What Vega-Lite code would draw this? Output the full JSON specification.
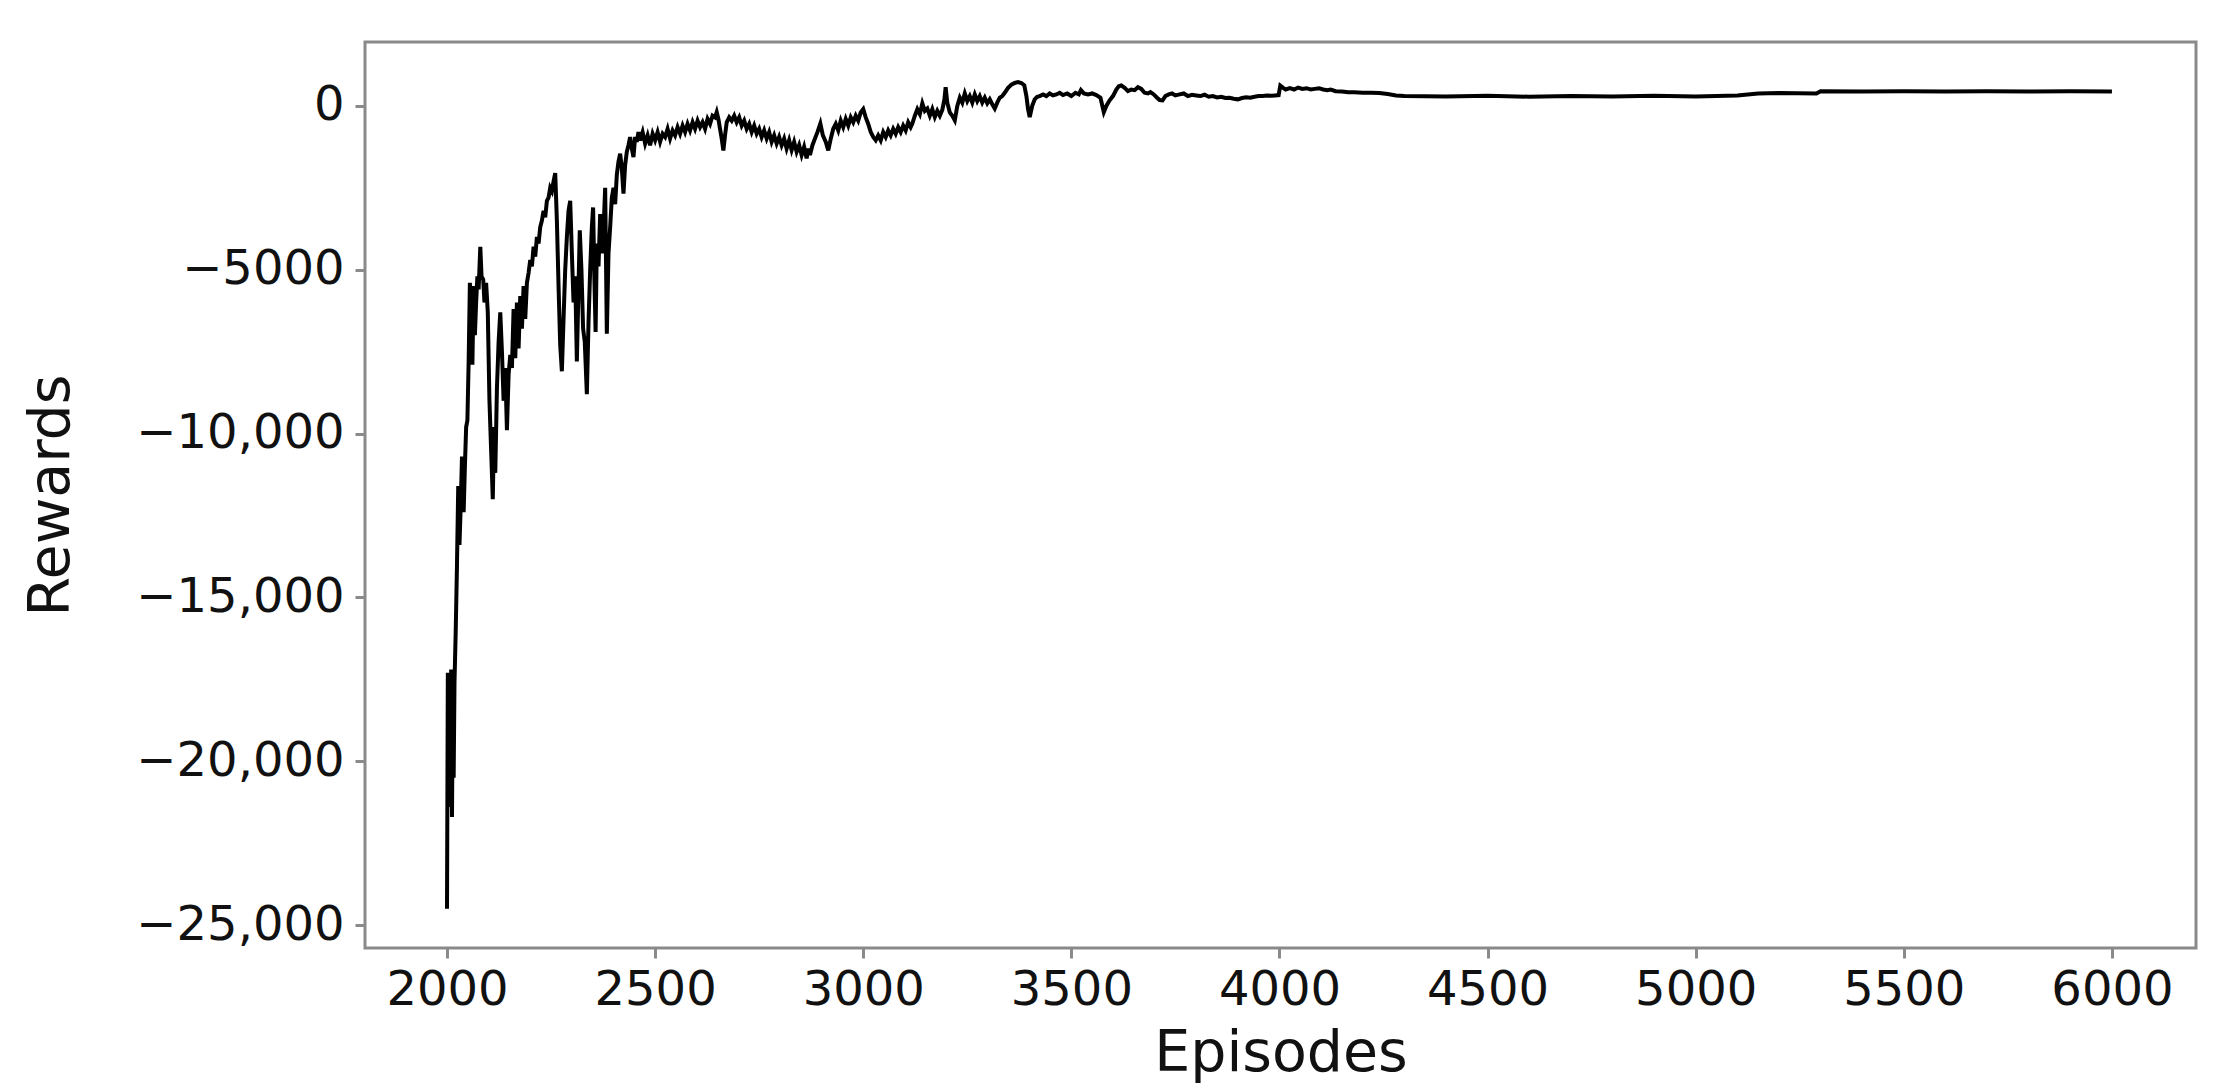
{
  "$schema": "https://vega.github.io/schema/vega-lite/v6.json",
  "width": 1831,
  "height": 906,
  "autosize": {"type": "none"},
  "padding": {"left": 365, "top": 42, "right": 30, "bottom": 144},
  "background": "white",
  "config": {
    "view": {"stroke": "#8a8a8a", "strokeWidth": 3},
    "axis": {"grid": false, "domain": false, "tickColor": "#8a8a8a", "tickWidth": 3, "tickSize": 10, "labelLimit": 0, "titleLimit": 0,
      "labelFont": "DejaVu Sans", "labelFontSize": 48, "labelColor": "#111",
      "titleFont": "DejaVu Sans", "titleFontSize": 57, "titleFontWeight": "normal", "titleColor": "#111"}
  },
  "data": {"values": [
    {"e":2000,"r":-24500},{"e":2002,"r":-17300},{"e":2004,"r":-21000},{"e":2006,"r":-17500},{"e":2008,"r":-21400},{"e":2010,"r":-17200},{"e":2012,"r":-21700},{"e":2014,"r":-17800},{"e":2016,"r":-20500},{"e":2018,"r":-17600},{"e":2021,"r":-16000},{"e":2024,"r":-14000},{"e":2027,"r":-11600},{"e":2030,"r":-13400},{"e":2033,"r":-12200},{"e":2036,"r":-10700},{"e":2040,"r":-12400},{"e":2043,"r":-11000},{"e":2046,"r":-9800},{"e":2049,"r":-9600},{"e":2052,"r":-7800},{"e":2055,"r":-5400},{"e":2058,"r":-6500},{"e":2061,"r":-7900},{"e":2064,"r":-5500},{"e":2067,"r":-7000},{"e":2070,"r":-6000},{"e":2073,"r":-5200},{"e":2076,"r":-5600},{"e":2080,"r":-4300},{"e":2083,"r":-5200},{"e":2087,"r":-5300},{"e":2090,"r":-6000},{"e":2094,"r":-5400},{"e":2098,"r":-6300},{"e":2102,"r":-9000},{"e":2106,"r":-10500},{"e":2110,"r":-12000},{"e":2113,"r":-9800},{"e":2116,"r":-11200},{"e":2120,"r":-8600},{"e":2124,"r":-7200},{"e":2128,"r":-6300},{"e":2132,"r":-7500},{"e":2136,"r":-9000},{"e":2140,"r":-8000},{"e":2144,"r":-9900},{"e":2148,"r":-8200},{"e":2152,"r":-7600},{"e":2156,"r":-8000},{"e":2160,"r":-6200},{"e":2164,"r":-7700},{"e":2168,"r":-6000},{"e":2172,"r":-7400},{"e":2176,"r":-5800},{"e":2180,"r":-6800},{"e":2184,"r":-5500},{"e":2188,"r":-6500},{"e":2192,"r":-5400},{"e":2196,"r":-5100},{"e":2200,"r":-4700},{"e":2204,"r":-4900},{"e":2208,"r":-4300},{"e":2212,"r":-4600},{"e":2216,"r":-4000},{"e":2220,"r":-4200},{"e":2224,"r":-3700},{"e":2228,"r":-3500},{"e":2232,"r":-3200},{"e":2236,"r":-3400},{"e":2240,"r":-2900},{"e":2244,"r":-2800},{"e":2248,"r":-2500},{"e":2252,"r":-2600},{"e":2256,"r":-2300},{"e":2260,"r":-2050},{"e":2264,"r":-3500},{"e":2268,"r":-5500},{"e":2272,"r":-7300},{"e":2276,"r":-8100},{"e":2280,"r":-6500},{"e":2284,"r":-5000},{"e":2288,"r":-4000},{"e":2292,"r":-3200},{"e":2296,"r":-2900},{"e":2300,"r":-4500},{"e":2304,"r":-6000},{"e":2308,"r":-5200},{"e":2312,"r":-7800},{"e":2316,"r":-5500},{"e":2319,"r":-3800},{"e":2323,"r":-5000},{"e":2327,"r":-6800},{"e":2331,"r":-7200},{"e":2336,"r":-8800},{"e":2340,"r":-6600},{"e":2344,"r":-5000},{"e":2348,"r":-3700},{"e":2351,"r":-3100},{"e":2354,"r":-5200},{"e":2357,"r":-6900},{"e":2360,"r":-4200},{"e":2364,"r":-4900},{"e":2368,"r":-3300},{"e":2372,"r":-4500},{"e":2376,"r":-3800},{"e":2380,"r":-2500},{"e":2384,"r":-6950},{"e":2388,"r":-4500},{"e":2392,"r":-3700},{"e":2396,"r":-2800},{"e":2400,"r":-2500},{"e":2404,"r":-3000},{"e":2408,"r":-2100},{"e":2412,"r":-1700},{"e":2416,"r":-1460},{"e":2420,"r":-1900},{"e":2424,"r":-2680},{"e":2428,"r":-1800},{"e":2432,"r":-1400},{"e":2436,"r":-1200},{"e":2440,"r":-950},{"e":2444,"r":-1300},{"e":2448,"r":-1560},{"e":2452,"r":-950},{"e":2456,"r":-1100},{"e":2460,"r":-800},
    {"e":2464,"r":-1050},{"e":2470,"r":-800},{"e":2476,"r":-1150},{"e":2482,"r":-900},{"e":2488,"r":-1200},{"e":2494,"r":-850},{"e":2500,"r":-1050},{"e":2506,"r":-800},{"e":2512,"r":-1100},{"e":2518,"r":-850},{"e":2524,"r":-950},{"e":2530,"r":-700},{"e":2536,"r":-1000},{"e":2542,"r":-750},{"e":2548,"r":-900},{"e":2554,"r":-650},{"e":2560,"r":-850},{"e":2566,"r":-600},{"e":2572,"r":-800},{"e":2578,"r":-550},{"e":2584,"r":-750},{"e":2590,"r":-500},{"e":2596,"r":-700},{"e":2602,"r":-450},{"e":2608,"r":-650},{"e":2614,"r":-500},{"e":2620,"r":-700},{"e":2626,"r":-400},{"e":2632,"r":-550},{"e":2638,"r":-300},{"e":2644,"r":-350},{"e":2648,"r":-190},{"e":2652,"r":-400},{"e":2656,"r":-700},{"e":2660,"r":-1000},{"e":2664,"r":-1360},{"e":2668,"r":-900},{"e":2672,"r":-500},{"e":2678,"r":-350},{"e":2684,"r":-450},{"e":2690,"r":-300},{"e":2696,"r":-500},{"e":2702,"r":-350},{"e":2708,"r":-600},{"e":2714,"r":-450},{"e":2720,"r":-700},{"e":2726,"r":-550},{"e":2732,"r":-800},{"e":2738,"r":-600},{"e":2744,"r":-850},{"e":2750,"r":-700},{"e":2756,"r":-950},{"e":2762,"r":-750},{"e":2768,"r":-1000},{"e":2774,"r":-800},{"e":2780,"r":-1100},{"e":2786,"r":-900},{"e":2792,"r":-1150},{"e":2798,"r":-950},{"e":2804,"r":-1200},{"e":2810,"r":-1000},{"e":2816,"r":-1300},{"e":2822,"r":-1050},{"e":2828,"r":-1350},{"e":2834,"r":-1100},{"e":2840,"r":-1400},{"e":2846,"r":-1200},{"e":2852,"r":-1500},{"e":2858,"r":-1250},{"e":2864,"r":-1600},{"e":2868,"r":-1300},{"e":2872,"r":-1500},{"e":2878,"r":-1200},{"e":2884,"r":-1000},{"e":2890,"r":-800},{"e":2897,"r":-540},{"e":2903,"r":-900},{"e":2910,"r":-1100},{"e":2916,"r":-1360},{"e":2922,"r":-1000},{"e":2928,"r":-700},{"e":2934,"r":-550},{"e":2940,"r":-750},{"e":2946,"r":-450},{"e":2952,"r":-650},{"e":2958,"r":-400},{"e":2964,"r":-600},{"e":2970,"r":-350},{"e":2976,"r":-500},{"e":2982,"r":-300},{"e":2988,"r":-450},{"e":2994,"r":-200},{"e":3000,"r":-100},{"e":3006,"r":-350},{"e":3012,"r":-550},{"e":3018,"r":-800},{"e":3024,"r":-950},{"e":3030,"r":-1050},{"e":3036,"r":-900},{"e":3042,"r":-1050},{"e":3048,"r":-800},{"e":3054,"r":-950},{"e":3060,"r":-750},{"e":3066,"r":-900},{"e":3072,"r":-700},{"e":3078,"r":-850},{"e":3084,"r":-650},{"e":3090,"r":-800},{"e":3096,"r":-600},{"e":3102,"r":-750},{"e":3108,"r":-500},{"e":3114,"r":-650},{"e":3118,"r":-540},{"e":3124,"r":-300},{"e":3130,"r":-100},{"e":3136,"r":-250},{"e":3142,"r":80},{"e":3148,"r":-150},{"e":3154,"r":-80},{"e":3160,"r":-300},{"e":3166,"r":-100},{"e":3172,"r":-340},{"e":3178,"r":-150},{"e":3184,"r":-300},{"e":3190,"r":-120},{"e":3195,"r":200},{"e":3198,"r":570},{"e":3202,"r":100},{"e":3208,"r":-200},{"e":3214,"r":-300},{"e":3220,"r":-440},{"e":3226,"r":0},{"e":3232,"r":250},{"e":3238,"r":100},{"e":3244,"r":380},{"e":3250,"r":150},{"e":3256,"r":300},{"e":3262,"r":100},{"e":3268,"r":350},{"e":3274,"r":150},{"e":3280,"r":300},{"e":3286,"r":100},{"e":3292,"r":250},{"e":3298,"r":80},{"e":3304,"r":200},{"e":3310,"r":50},{"e":3316,"r":-80},{"e":3322,"r":100},{"e":3328,"r":250},{"e":3334,"r":300},{"e":3340,"r":400},{"e":3348,"r":550},{"e":3356,"r":650},{"e":3364,"r":700},{"e":3372,"r":730},{"e":3380,"r":700},{"e":3387,"r":630},{"e":3392,"r":300},{"e":3396,"r":-100},{"e":3400,"r":-340},{"e":3406,"r":0},{"e":3412,"r":200},{"e":3418,"r":280},{"e":3424,"r":300},{"e":3432,"r":350},{"e":3440,"r":300},{"e":3448,"r":380},{"e":3456,"r":320},{"e":3464,"r":350},{"e":3472,"r":400},{"e":3480,"r":330},{"e":3490,"r":380},{"e":3500,"r":300},{"e":3510,"r":400},{"e":3518,"r":350},{"e":3523,"r":480},{"e":3530,"r":380},{"e":3540,"r":350},{"e":3550,"r":380},{"e":3560,"r":330},{"e":3570,"r":250},{"e":3578,"r":-190},{"e":3584,"r":0},{"e":3592,"r":170},{"e":3600,"r":300},{"e":3608,"r":500},{"e":3614,"r":600},{"e":3620,"r":625},{"e":3628,"r":550},{"e":3636,"r":450},{"e":3644,"r":500},{"e":3652,"r":480},{"e":3660,"r":570},{"e":3668,"r":520},{"e":3676,"r":400},{"e":3684,"r":380},{"e":3690,"r":420},{"e":3698,"r":350},{"e":3706,"r":250},{"e":3712,"r":180},{"e":3719,"r":170},{"e":3726,"r":300},{"e":3734,"r":350},{"e":3742,"r":380},{"e":3750,"r":320},{"e":3760,"r":350},{"e":3770,"r":380},{"e":3780,"r":300},{"e":3790,"r":340},{"e":3800,"r":320},{"e":3810,"r":300},{"e":3820,"r":340},{"e":3830,"r":280},{"e":3840,"r":300},{"e":3850,"r":260},{"e":3860,"r":280},{"e":3870,"r":240},{"e":3880,"r":250},{"e":3890,"r":220},{"e":3900,"r":200},{"e":3910,"r":240},{"e":3920,"r":260},{"e":3930,"r":250},{"e":3940,"r":280},{"e":3950,"r":300},{"e":3960,"r":300},{"e":3970,"r":320},{"e":3980,"r":310},{"e":3990,"r":320},{"e":3998,"r":330},{"e":4002,"r":620},{"e":4008,"r":560},{"e":4015,"r":500},{"e":4025,"r":540},{"e":4035,"r":500},{"e":4045,"r":560},{"e":4055,"r":520},{"e":4065,"r":540},{"e":4075,"r":500},{"e":4085,"r":520},{"e":4095,"r":540},{"e":4105,"r":500},{"e":4115,"r":480},{"e":4123,"r":500},{"e":4135,"r":450},{"e":4150,"r":440},{"e":4165,"r":420},{"e":4180,"r":420},{"e":4200,"r":400},{"e":4220,"r":400},{"e":4240,"r":390},{"e":4260,"r":360},{"e":4280,"r":320},{"e":4300,"r":300},{"e":4400,"r":290},{"e":4500,"r":310},{"e":4600,"r":280},{"e":4700,"r":300},{"e":4800,"r":290},{"e":4900,"r":310},{"e":5000,"r":290},{"e":5100,"r":320},{"e":5150,"r":380},{"e":5200,"r":390},{"e":5290,"r":380},{"e":5300,"r":450},{"e":5400,"r":440},{"e":5500,"r":450},{"e":5600,"r":440},{"e":5700,"r":445},{"e":5800,"r":440},{"e":5900,"r":450},{"e":6000,"r":440}
  ]},
  "mark": {"type": "line", "color": "#000", "strokeWidth": 4},
  "encoding": {
    "x": {"field": "e", "type": "quantitative",
      "scale": {"domain": [1803, 6202], "nice": false, "zero": false},
      "axis": {"values": [2000, 2500, 3000, 3500, 4000, 4500, 5000, 5500, 6000], "format": "d",
        "labelPadding": 8, "title": "Episodes", "titleBaseline": "alphabetic", "titleY": 122}},
    "y": {"field": "r", "type": "quantitative",
      "scale": {"domain": [-25700, 1950], "nice": false, "zero": false},
      "axis": {"values": [-25000, -20000, -15000, -10000, -5000, 0],
        "labelExpr": "datum.value == 0 ? '0' : (datum.value <= -10000 ? '\u2212' + format(-datum.value, ',') : '\u2212' + format(-datum.value, 'd'))",
        "labelPadding": 11, "title": "Rewards", "titleAngle": 270, "titleBaseline": "alphabetic", "titleAlign": "center", "titleX": -297, "titleY": 453}}
  }
}
